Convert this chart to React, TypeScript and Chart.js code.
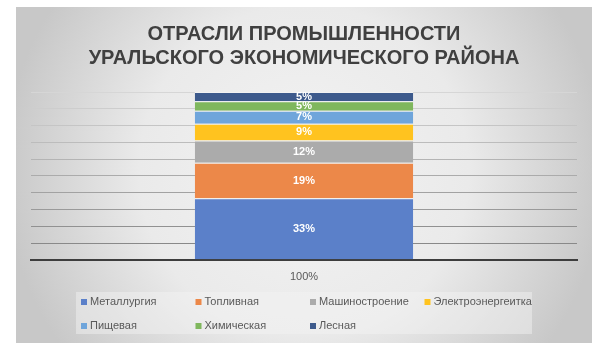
import React, { useEffect, useRef } from "react";
import { Chart, registerables } from "chart.js";

Chart.register(...registerables);

const titleLines = ["ОТРАСЛИ ПРОМЫШЛЕННОСТИ", "УРАЛЬСКОГО ЭКОНОМИЧЕСКОГО РАЙОНА"];
const categories = ["100%"];
const industries = [
  "Металлургия",
  "Топливная",
  "Машиностроение",
  "Электроэнергеитка",
  "Пищевая",
  "Химическая",
  "Лесная",
];
const shares = [33, 19, 12, 9, 7, 5, 5];
const colors = ["#5b80c9", "#ec8849", "#ababab", "#ffc31f", "#6fa5db", "#7fb75d", "#3d5a8c"];

const total = shares.reduce((a, b) => a + b, 0);

function mix(a: number[], b: number[], t: number) {
  const c = a.map((v, i) => Math.round(v + (b[i] - v) * t));
  return `rgb(${c[0]},${c[1]},${c[2]})`;
}

const backgroundPlugin = {
  id: "bgPanel",
  beforeDraw(chart: any) {
    const { ctx } = chart;
    ctx.save();
    ctx.fillStyle = "#ffffff";
    ctx.fillRect(0, 0, chart.width, chart.height);
    const g = ctx.createRadialGradient(304, 170, 0, 304, 170, 300);
    g.addColorStop(0, "#f3f3f3");
    g.addColorStop(0.55, "#eaeaea");
    g.addColorStop(1, "#c8c8c8");
    ctx.fillStyle = g;
    ctx.fillRect(16, 7, 576, 336);
    ctx.restore();
  },
};

const labelPlugin = {
  id: "segLabels",
  afterDatasetsDraw(chart: any) {
    const { ctx } = chart;
    ctx.save();
    ctx.font = "bold 11px 'Liberation Sans', Arial, sans-serif";
    ctx.fillStyle = "#ffffff";
    ctx.textAlign = "center";
    ctx.textBaseline = "middle";
    chart.data.datasets.forEach((ds: any, i: number) => {
      const meta = chart.getDatasetMeta(i);
      meta.data.forEach((el: any, j: number) => {
        const p = el.getProps(["x", "y", "base"], true);
        ctx.fillText(ds.data[j] + "%", p.x, (p.y + p.base) / 2);
      });
    });
    ctx.restore();
  },
};

const legendPlugin = {
  id: "gridLegend",
  afterDraw(chart: any) {
    const { ctx } = chart;
    ctx.save();
    ctx.fillStyle = "rgba(245,245,245,0.45)";
    ctx.fillRect(76, 292, 456, 42);
    ctx.font = "11px 'Liberation Sans', Arial, sans-serif";
    ctx.textBaseline = "middle";
    ctx.textAlign = "left";
    const perRow = 4;
    const colW = 114.5;
    const x0 = 81;
    const rows = [302, 326];
    chart.data.datasets.forEach((ds: any, i: number) => {
      const col = i % perRow;
      const row = Math.floor(i / perRow);
      const x = x0 + col * colW;
      const y = rows[row];
      ctx.fillStyle = ds.backgroundColor;
      ctx.fillRect(x, y - 3, 6, 6);
      ctx.fillStyle = "#595959";
      ctx.fillText(ds.label, x + 9, y);
    });
    ctx.restore();
  },
};

export default function App() {
  const ref = useRef<HTMLCanvasElement | null>(null);
  useEffect(() => {
    if (!ref.current) return;
    const chart = new Chart(ref.current, {
      type: "bar",
      data: {
        labels: categories,
        datasets: industries.map((name, i) => ({
          label: name,
          data: [shares[i]],
          backgroundColor: colors[i],
          borderColor: "rgba(245,245,245,0.9)",
          borderWidth: { top: 1, bottom: 0, left: 0, right: 0 },
          borderSkipped: false,
          barPercentage: 0.4,
          categoryPercentage: 1,
        })),
      },
      options: {
        responsive: false,
        animation: false,
        layout: { padding: { top: 0, left: 31, right: 22, bottom: 57 } },
        plugins: {
          legend: { display: false },
          tooltip: { enabled: false },
          title: {
            display: true,
            text: titleLines,
            color: "#404040",
            font: { family: "'Liberation Sans', Arial, sans-serif", size: 20, weight: "bold", lineHeight: 1.17 },
            padding: { top: 23, bottom: 22.2 },
          },
        },
        scales: {
          x: {
            stacked: true,
            grid: { display: false, drawTicks: false },
            border: { display: true, color: "#3d3d3d", width: 2 },
            ticks: { color: "#595959", font: { family: "'Liberation Sans', Arial, sans-serif", size: 11 }, padding: 11 },
          },
          y: {
            stacked: true,
            min: 0,
            max: total,
            ticks: { display: false, stepSize: total / 10 },
            border: { display: false },
            grid: {
              drawTicks: false,
              lineWidth: 1,
              color: (c: any) => {
                const v = c.tick ? c.tick.value : 0;
                if (v <= 0) return "rgba(0,0,0,0)";
                return mix([128, 128, 128], [214, 214, 214], v / total);
              },
            },
          },
        },
      },
      plugins: [backgroundPlugin, labelPlugin, legendPlugin],
    });
    return () => chart.destroy();
  }, []);
  return (
    <div style={{ position: "absolute", left: 0, top: 0, width: 599, height: 352 }}>
      <canvas ref={ref} width={599} height={352} />
    </div>
  );
}
